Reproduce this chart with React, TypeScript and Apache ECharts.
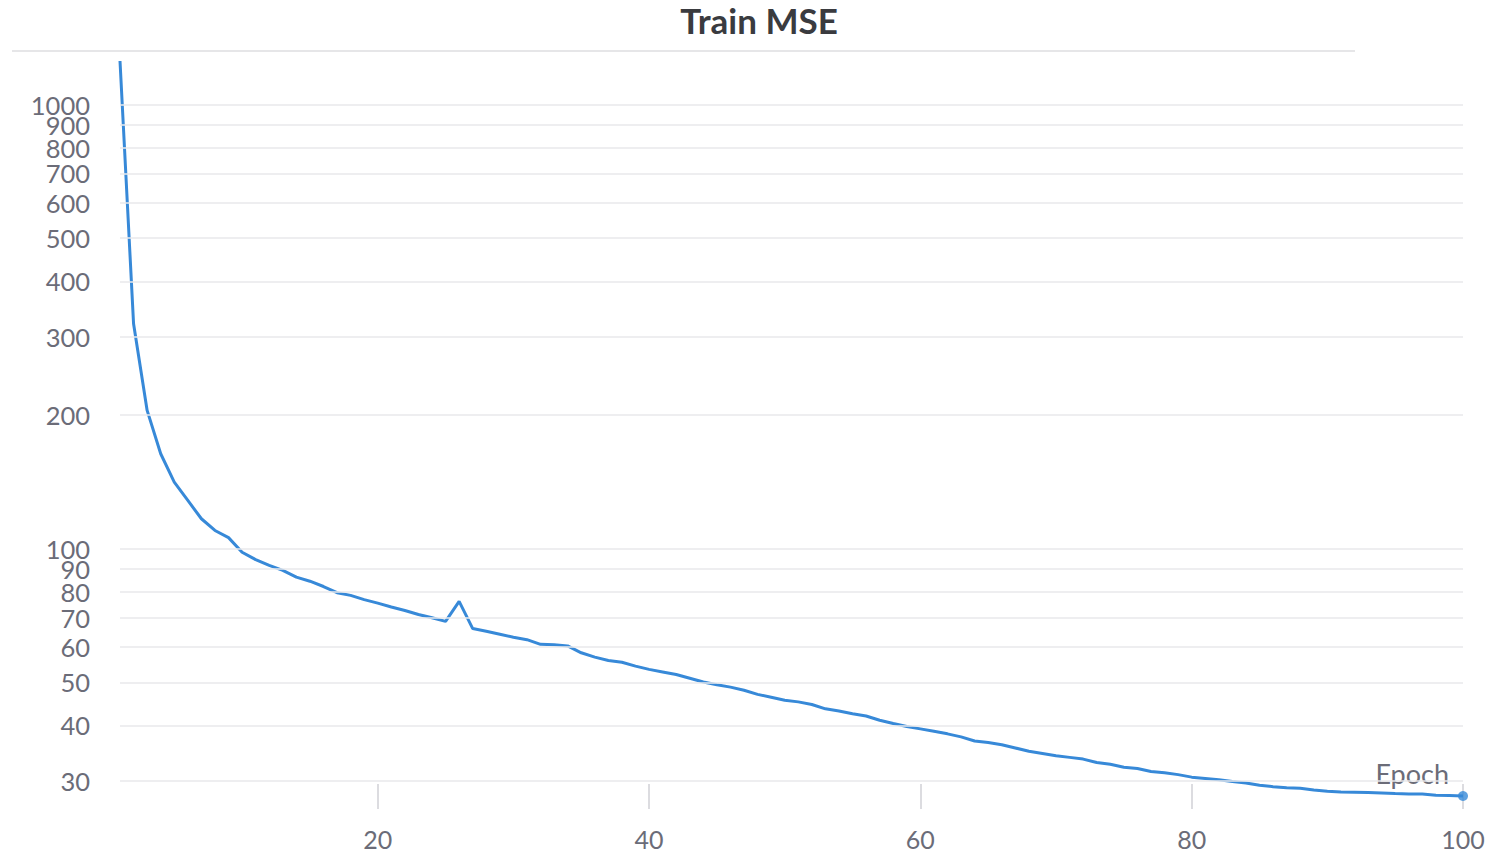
import React, { useEffect, useRef } from "react";
import * as echarts from "echarts";

const title = "Train MSE";
const xAxisName = "Epoch";
const epochs: number[] = Array.from({ length: 100 }, (_, i) => i + 1);
const mse: number[] = [
  1253, 321, 204.8, 163.6, 141.2, 128.4, 116.8, 109.9, 105.9, 98.2,
  94.5, 91.7, 89.4, 86.3, 84.5, 82.2, 79.6, 78.5, 76.8, 75.4,
  73.9, 72.6, 71.1, 69.9, 68.6, 76.1, 66.1, 65.2, 64.2, 63.2,
  62.4, 60.9, 60.8, 60.4, 58.3, 57.0, 56.0, 55.5, 54.4, 53.5,
  52.8, 52.1, 51.1, 50.1, 49.4, 48.8, 48.0, 47.0, 46.3, 45.6,
  45.2, 44.6, 43.6, 43.1, 42.5, 42.0, 41.1, 40.4, 39.8, 39.3,
  38.8, 38.3, 37.7, 36.9, 36.6, 36.2, 35.6, 35.0, 34.6, 34.2,
  33.9, 33.6, 33.0, 32.7, 32.2, 32.0, 31.5, 31.3, 31.0, 30.6,
  30.4, 30.2, 29.9, 29.7, 29.33, 29.13, 28.98, 28.88, 28.62, 28.43,
  28.33, 28.29, 28.24, 28.18, 28.1, 28.04, 28.04, 27.85, 27.81, 27.75,
];
const xTicks: number[] = [20, 40, 60, 80, 100];
const yTicks: number[] = [30, 40, 50, 60, 70, 80, 90, 100, 200, 300, 400, 500, 600, 700, 800, 900, 1000];

const LINE = "#3789d8";
const LABEL = "#6b6c78";
const GRID = "#e8e8eb";
const FONT = "Lato, 'Open Sans', sans-serif";

export default function App() {
  const ref = useRef<HTMLDivElement>(null);
  useEffect(() => {
    if (!ref.current) return;
    const chart = echarts.init(ref.current, undefined, { renderer: "svg" });
    const data = epochs.map((e, i) => [e, mse[i]]);
    const last = data[data.length - 1];
    chart.setOption({
      animation: false,
      backgroundColor: "#ffffff",
      title: {
        text: title,
        left: 754,
        textAlign: "center",
        top: -3,
        textStyle: { fontFamily: FONT, fontWeight: "bold", fontSize: 35, color: "#3a3b3f" },
      },
      grid: { left: 120, right: 48, top: 61, bottom: 58, containLabel: false },
      xAxis: {
        type: "value",
        min: 1,
        max: 100,
        offset: -12,
        axisLine: { show: false },
        splitLine: { show: false },
        axisTick: {
          show: true,
          customValues: xTicks,
          length: 25,
          lineStyle: { color: "#dcdce0", width: 2 },
        },
        axisLabel: {
          customValues: xTicks,
          margin: 42,
          fontFamily: FONT,
          fontSize: 25,
          color: LABEL,
        },
      },
      yAxis: {
        type: "log",
        logBase: 10,
        min: (v: any) => v.min,
        max: (v: any) => v.max,
        axisLine: { show: false },
        axisTick: { show: false },
        axisLabel: { show: false },
        splitLine: { show: false },
        minorSplitLine: { show: false },
      },
      graphic: [
        {
          type: "line",
          shape: { x1: 12, y1: 51, x2: 1355, y2: 51 },
          style: { stroke: "#e6e6e8", lineWidth: 2 },
          silent: true,
        },
        {
          type: "text",
          x: 1449,
          y: 773,
          style: {
            text: xAxisName,
            fontFamily: FONT,
            fontSize: 27,
            fill: LABEL,
            textAlign: "right",
            textVerticalAlign: "middle",
          },
          silent: true,
        },
      ],
      series: [
        {
          type: "line",
          name: "grid",
          data: [],
          z: 1,
          silent: true,
          markLine: {
            silent: true,
            symbol: ["none", "none"],
            animation: false,
            lineStyle: { color: GRID, type: "solid", width: 1.5 },
            label: {
              show: true,
              position: "start",
              distance: 30,
              formatter: (p: any) => String(p.value),
              fontFamily: FONT,
              fontSize: 25.5,
              color: LABEL,
            },
            data: yTicks.map((v) => ({ yAxis: v })),
          },
        },
        {
          type: "line",
          name: title,
          data,
          z: 3,
          clip: false,
          showSymbol: false,
          symbol: "none",
          lineStyle: { color: LINE, width: 3 },
          itemStyle: { color: LINE },
        },
        {
          type: "scatter",
          data: [last],
          z: 4,
          clip: false,
          symbol: "circle",
          symbolSize: 10,
          itemStyle: { color: LINE },
        },
      ],
    });
    return () => chart.dispose();
  }, []);
  return (
    <div
      ref={ref}
      style={{ position: "absolute", left: 0, top: 0, width: 1511, height: 854 }}
    />
  );
}
